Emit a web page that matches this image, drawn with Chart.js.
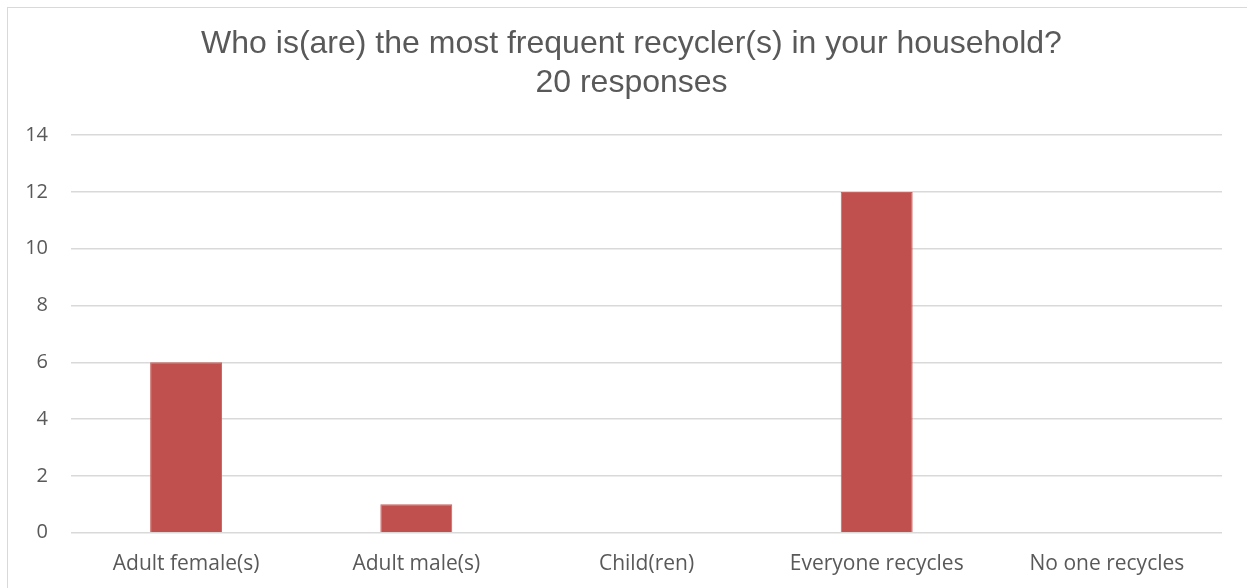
<!DOCTYPE html>
<html>
<head>
<meta charset="utf-8">
<script src="https://cdn.jsdelivr.net/npm/chart.js@4/dist/chart.umd.min.js"></script>
<style>
  html, body { margin: 0; padding: 0; background: #fff; }
  #wrap { position: relative; width: 1247px; height: 588px; overflow: hidden; }
  #frame { position: absolute; left: 7px; top: 7px; width: 1260px; height: 600px;
           border-left: 1.5px solid #d9d9d9; border-top: 1.5px solid #d9d9d9; box-sizing: border-box; }
  canvas { position: absolute; left: 0; top: 0; }
</style>
</head>
<body>
<div id="wrap">
  <div id="frame"></div>
  <canvas id="bars" width="1247" height="588"></canvas>
</div>
<script>
const categories = ['Adult female(s)', 'Adult male(s)', 'Child(ren)', 'Everyone recycles', 'No one recycles'];
const responses = [6, 1, 0, 12, 0];
const titleLines = ['Who is(are) the most frequent recycler(s) in your household?', '20 responses'];

const textColor = '#595959';
const fontFamily = '"Open Sans", "Noto Sans", sans-serif';

// nudge the title block so it centres over the whole frame, not the padded box
const titleShift = {
    id: 'titleShift',
    afterLayout(chart) {
        if (chart.titleBlock) chart.titleBlock.left += 41;
    }
};

const ctx = document.getElementById('bars').getContext('2d');
const chart = new Chart(ctx, {
    type: 'bar',
    data: {
        labels: categories,
        datasets: [{
            data: responses,
            backgroundColor: '#c0504d',
            borderColor: '#c9625f',
            borderWidth: 1,
            categoryPercentage: 1,
            barPercentage: 0.3125
        }]
    },
    options: {
        responsive: false,
        animation: false,
        layout: { padding: { top: 0, right: 25, bottom: 12, left: 0 } },
        plugins: {
            legend: { display: false },
            tooltip: { enabled: false },
            title: {
                display: true,
                text: titleLines,
                color: textColor,
                font: { family: '"Liberation Sans", Arial, sans-serif', size: 32, weight: 'normal', lineHeight: 1.22 },
                padding: { top: 25, bottom: 32 }
            }
        },
        scales: {
            x: {
                grid: { display: false, drawTicks: false },
                border: { display: false },
                ticks: { color: textColor, font: { family: fontFamily, size: 21 }, padding: 19, maxRotation: 0 },
                afterFit(scale) { scale.height = 43.3; }
            },
            y: {
                min: 0,
                max: 14,
                ticks: { stepSize: 2, color: textColor, font: { family: fontFamily, size: 20 }, padding: 23 },
                grid: { color: '#d9d9d9', lineWidth: 1.4, drawTicks: false },
                border: { display: false },
                afterFit(scale) { scale.width = 71; }
            }
        }
    },
    plugins: [titleShift]
});
</script>
</body>
</html>
